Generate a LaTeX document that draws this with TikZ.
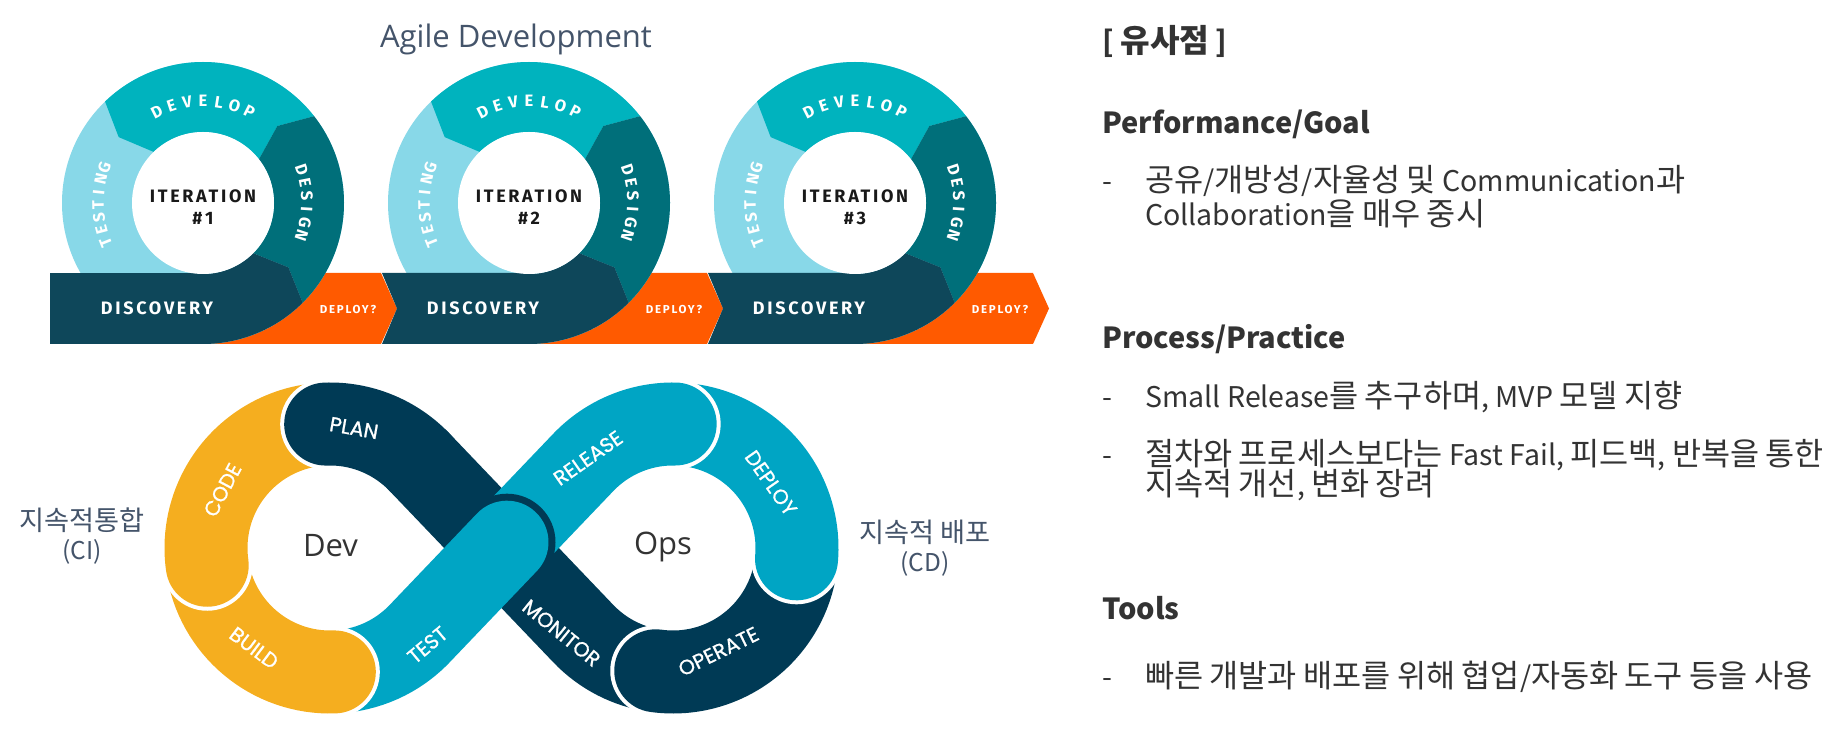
\documentclass[tikz,border=0pt]{standalone}
\usepackage{fontspec}
\setmainfont{Noto Sans CJK KR}
\newfontfamily\kofont[Scale=1.11]{Noto Sans CJK KR}
\newfontfamily\opensans{Open Sans}
\newfontfamily\poppins[FakeBold=1]{Poppins}
\newfontfamily\agfont{Fira Sans}
\newfontfamily\agwide[LetterSpace=15]{Fira Sans}
\usetikzlibrary{calc}

% wider hangul, as on the slide
\newXeTeXintercharclass\hangul
\XeTeXinterchartokenstate=1
\count255="AC00
\loop\ifnum\count255<"D7A4
  \XeTeXcharclass\count255=\hangul
  \advance\count255 by 1
\repeat
\XeTeXinterchartoks 0 \hangul = {\begingroup\kofont}
\XeTeXinterchartoks 4095 \hangul = {\begingroup\kofont}
\XeTeXinterchartoks \hangul 0 = {\endgroup}
\XeTeXinterchartoks \hangul 4095 = {\endgroup}

\definecolor{agtest}{RGB}{136,216,232}
\definecolor{agdev}{RGB}{0,179,190}
\definecolor{agdesign}{RGB}{0,111,122}
\definecolor{agdisc}{RGB}{14,71,90}
\definecolor{agorange}{RGB}{255,90,0}
\definecolor{donavy}{RGB}{0,58,85}
\definecolor{doblue}{RGB}{0,165,196}
\definecolor{doyellow}{RGB}{245,174,31}
\definecolor{slate}{RGB}{68,84,106}
\definecolor{ink}{RGB}{51,51,51}

\begin{document}
\begin{tikzpicture}[x=1pt, y=1pt,
  ringletter/.style={text=white, inner sep=0pt, font=\agfont\bfseries\fontsize{16.5}{17}\selectfont},
  iterlabel/.style={text=black!90, align=center, inner sep=0pt, font=\agwide\bfseries\fontsize{18}{22}\selectfont},
  bannerword/.style={text=white, inner sep=0pt, font=\agwide\bfseries\fontsize{18}{18}\selectfont},
  deployword/.style={text=white, inner sep=0pt, font=\agwide\bfseries\fontsize{11.5}{12}\selectfont},
  band/.style={line width=83pt, line cap=round},
  loopword/.style={text=white, inner sep=0pt, font=\poppins\fontsize{20.5}{21}\selectfont},
  bigword/.style={text=ink, anchor=base, inner sep=0pt, font=\opensans\fontsize{31}{31}\selectfont},
  sidenote/.style={text=slate, align=center, inner sep=0pt, font=\fontsize{24.5}{29}\selectfont},
  heading/.style={text=ink, anchor=base west, inner sep=0pt, font=\bfseries\fontsize{29}{30}\selectfont},
  bullet/.style={text=ink, anchor=base west, inner sep=0pt, font=\fontsize{28.5}{30}\selectfont}]
%\draw[help lines, color=gray!30, dashed] (0,0) grid[step=50] (1838,752);
\useasboundingbox (0,0) rectangle (1838,752);

\node[text=slate, anchor=base, inner sep=0pt, font=\opensans\fontsize{31}{31}\selectfont] (title) at (516,704) {Agile Development};

\foreach \cx/\n in {203/1,529/2,855/3}{
  \fill[agorange] (\cx,479) -- (\cx+178,479) -- (\cx+194,443.5) -- (\cx+178,408) -- (\cx,408) -- cycle;
  \begin{scope}[shift={(\cx,549)}]
    \fill[agtest] (0,0) circle[radius=141];
    \fill[agdev] (38:141) -- (46:107) -- (38:71) arc[start angle=38, end angle=134, radius=71] -- (142:107) -- (134:141) arc[start angle=134, end angle=38, radius=141] -- cycle;
    \fill[agdesign] (-45:141) -- (-37:107) -- (-45:71) arc[start angle=-45, end angle=38, radius=71] -- (46:107) -- (38:141) arc[start angle=38, end angle=-45, radius=141] -- cycle;
    \fill[agdisc] (-100:141) -- (-100:71) arc[start angle=-100, end angle=-45, radius=71] -- (-37:107) -- (-45:141) arc[start angle=-45, end angle=-100, radius=141] -- cycle;
  \end{scope}
  \ifnum\n=1
    \fill[agdisc] (50,479) -- (\cx,479) -- (\cx,408) -- (50,408) -- cycle;
  \else
    \fill[agdisc] (\cx-147,479) -- (\cx,479) -- (\cx,408) -- (\cx-147,408) -- (\cx-132,443.5) -- cycle;
  \fi
  \fill[white] (\cx,549) circle[radius=71];
  \begin{scope}[shift={(\cx,549)}]
    \foreach \ltr [count=\i] in {D,E,V,E,L,O,P}
      \node[ringletter, rotate=36-9*\i] (develop\n-\i) at ({126-9*\i}:102) {\ltr};
    \foreach \ltr [count=\i] in {D,E,S,I,G,N}
      \node[ringletter, rotate=-64.1-7.4*\i] (design\n-\i) at ({25.9-7.4*\i}:104) {\ltr};
    \foreach \ltr [count=\i] in {T,E,S,T,I,N,G}
      \node[ringletter, rotate=119-7*\i] (testing\n-\i) at ({209-7*\i}:105) {\ltr};
  \end{scope}
  \node[iterlabel] (iter\n) at (\cx,545) {ITERATION\\\#\n};
  \node[bannerword] (discovery\n) at (\cx-46,443.5) {DISCOVERY};
  \node[deployword] (deploy\n) at (\cx+145,442) {DEPLOY?};
}

\coordinate (L) at (330,204);
\coordinate (R) at (673,204);
\coordinate (M) at (501.5,204);
\coordinate (E) at (507,209.8);
% monitor and plan, under the crossing
\draw[band, donavy] ($(R)+(262:124)$) arc[start angle=262, end angle=223.7, radius=124] -- ($(L)+(43.7:124)$);
\fill[white] ($(R)+(262:124)$) circle[radius=45.5];
\draw[band, donavy] ($(R)+(-5:124)$) arc[start angle=-5, end angle=-98, radius=124];
\fill[white] ($(R)+(-5:124)$) circle[radius=45.5];
\draw[band, doblue] ($(R)+(89:124)$) arc[start angle=89, end angle=-5, radius=124];
\fill[white] ($(R)+(89:124)$) circle[radius=45.5];
\draw[band, doblue] (M) -- ($(R)+(136.3:124)$) arc[start angle=136.3, end angle=89, radius=124];
\fill[donavy] (E) circle[radius=48.5];
\draw[band, doblue] ($(L)+(272:124)$) arc[start angle=272, end angle=316.3, radius=124] -- (E);
\fill[white] ($(L)+(272:124)$) circle[radius=45.5];
\draw[band, doyellow] ($(L)+(188:124)$) arc[start angle=188, end angle=272, radius=124];
\fill[white] ($(L)+(188:124)$) circle[radius=45.5];
\draw[band, doyellow] ($(L)+(92:124)$) arc[start angle=92, end angle=188, radius=124];
\fill[white] ($(L)+(92:124)$) circle[radius=45.5];
\draw[band, donavy] ($(L)+(43.7:124)$) arc[start angle=43.7, end angle=92, radius=124];

\node[loopword, rotate=-10] (plan) at (354,324) {PLAN};
\node[loopword, rotate=62] (code) at (222.5,262) {CODE};
\node[loopword, rotate=-37] (build) at (254,104) {BUILD};
\node[loopword, rotate=40] (test) at (427.5,107) {TEST};
\node[loopword, rotate=35] (release) at (588,294) {RELEASE};
\node[loopword, rotate=-55] (deploy) at (771,269) {DEPLOY};
\node[loopword, rotate=26] (operate) at (718.5,100.5) {OPERATE};
\node[loopword, rotate=-39] (monitor) at (561.5,119) {MONITOR};
\node[bigword] (dev) at (330.5,195) {Dev};
\node[bigword] (ops) at (663,197) {Ops};
\node[sidenote] (ci) at (82,216) {지속적통합\\(CI)};
\node[sidenote] (cd) at (925,204) {지속적 배포\\(CD)};

\node[heading] (similar) at (1102,699) {[ 유사점 ]};
\node[heading] (goalhead) at (1102,618) {Performance/Goal};
\node[bullet] (goaldash) at (1102,560) {-};
\node[bullet] (goal1) at (1145,560) {공유/개방성/자율성 및 Communication과};
\node[bullet] (goal2) at (1145,526) {Collaboration을 매우 중시};
\node[heading] (prochead) at (1102,403) {Process/Practice};
\node[bullet] (procdash1) at (1102,344) {-};
\node[bullet] (proc1) at (1145,344) {Small Release를 추구하며, MVP 모델 지향};
\node[bullet] (procdash2) at (1102,286) {-};
\node[bullet] (proc2) at (1145,286) {절차와 프로세스보다는 Fast Fail, 피드백, 반복을 통한};
\node[bullet] (proc3) at (1145,256) {지속적 개선, 변화 장려};
\node[heading] (toolhead) at (1102,132) {Tools};
\node[bullet] (tooldash) at (1102,64) {-};
\node[bullet] (tool1) at (1145,64) {빠른 개발과 배포를 위해 협업/자동화 도구 등을 사용};
\end{tikzpicture}
\end{document}
